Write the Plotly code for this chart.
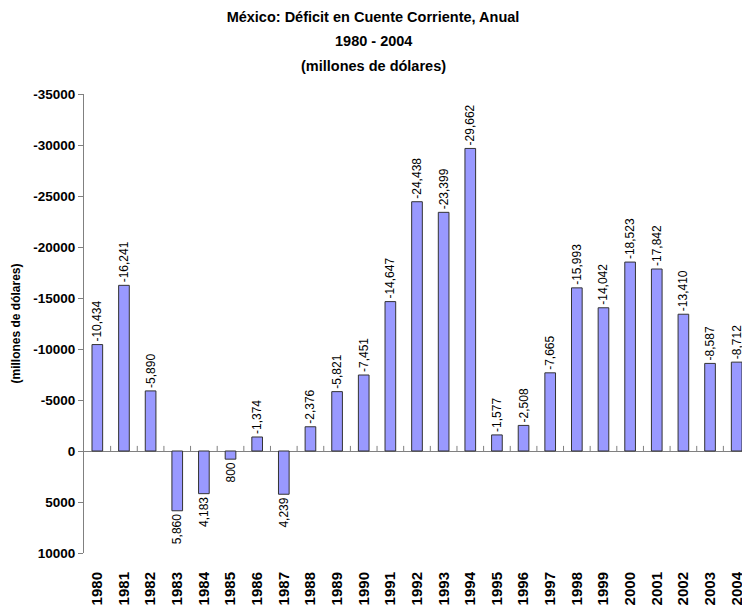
import plotly.graph_objects as go

years = [str(y) for y in range(1980, 2005)]
values = [-10434, -16241, -5890, 5860, 4183, 800, -1374, 4239, -2376, -5821,
          -7451, -14647, -24438, -23399, -29662, -1577, -2508, -7665, -15993,
          -14042, -18523, -17842, -13410, -8587, -8712]
y_ticks = [-35000, -30000, -25000, -20000, -15000, -10000, -5000, 0, 5000, 10000]
title_lines = ["México: Déficit en Cuente Corriente, Anual", "1980 - 2004", "(millones de dólares)"]

FIG_W, FIG_H = 742, 601
TITLE_FONT = dict(family="Liberation Sans Narrow, Liberation Sans, Arial", size=14.5,
                  color="black", weight="bold")

fig = go.Figure()
fig.add_trace(go.Bar(
    x=list(range(len(years))), y=values,
    width=0.4,
    marker=dict(color="#9999FF", line=dict(color="#333333", width=1)),
    text=[f"{v:,}" for v in values],
    textposition="outside", textangle=-90,
    constraintext="none",
    textfont=dict(family="Liberation Sans, Arial", size=12, color="black"),
    cliponaxis=False,
))

# small category boundary ticks on the zero line
for i in range(len(years)):
    fig.add_shape(type="line", xref="x", yref="y", x0=i + 0.5, x1=i + 0.5,
                  y0=0, y1=-500, line=dict(color="#808080", width=1))

# title: first line as layout title, remaining lines as annotations (wider line spacing)
line_centers_px = [9, 33, 58]
for txt, py in zip(title_lines[1:], line_centers_px[1:]):
    fig.add_annotation(text=txt, xref="paper", yref="paper",
                       x=(365 - 76) / (FIG_W - 76), y=1 + (86 - py) / (FIG_H - 86 - 56),
                       xanchor="center", yanchor="middle", showarrow=False,
                       font=TITLE_FONT)

# page has an 8px body margin, so the figure is sized/offset to compensate
fig.update_layout(
    width=FIG_W, height=FIG_H,
    margin=dict(l=76, r=0, t=86, b=56, autoexpand=False),
    paper_bgcolor="white", plot_bgcolor="white",
    showlegend=False,
    title=dict(
        text=title_lines[0],
        x=365 / FIG_W, xref="container", xanchor="center",
        y=1 - line_centers_px[0] / FIG_H, yref="container", yanchor="middle",
        font=TITLE_FONT,
    ),
    xaxis=dict(
        range=[-0.5, 24.5], automargin=False,
        tickmode="array", tickvals=list(range(len(years))), ticktext=years,
        tickangle=-90,
        tickfont=dict(family="Liberation Sans, Arial", size=15, color="black", weight="bold"),
        showline=False, showgrid=False, zeroline=False,
        ticks="outside", ticklen=12, tickcolor="rgba(0,0,0,0)",
    ),
    yaxis=dict(
        range=[10000, -35000], automargin=False,
        tickmode="array", tickvals=y_ticks, ticktext=[str(v) for v in y_ticks],
        tickfont=dict(family="Liberation Sans, Arial", size=13.5, color="black", weight="bold"),
        showline=True, linecolor="#808080", linewidth=1,
        ticks="outside", ticklen=5, tickcolor="#808080",
        showgrid=False,
        zeroline=True, zerolinecolor="#808080", zerolinewidth=1,
        title=dict(text="(millones de dólares)", standoff=10,
                   font=dict(family="Liberation Sans, Arial", size=12, color="black", weight="bold")),
    ),
    bargap=0.6,
)

fig.write_html("out.html")
